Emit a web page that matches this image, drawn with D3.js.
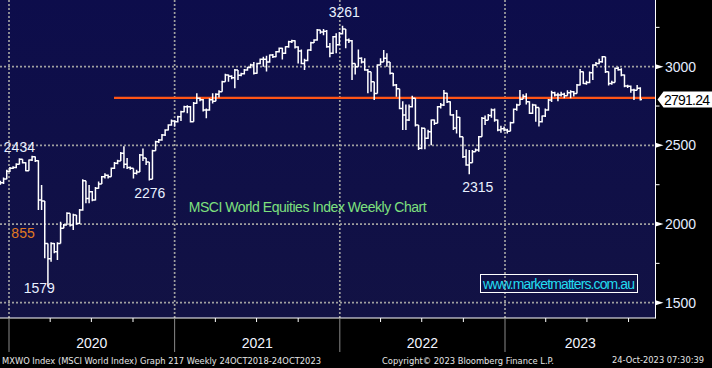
<!DOCTYPE html>
<html><head><meta charset="utf-8">
<script src="https://cdn.jsdelivr.net/npm/d3@7"></script>
<style>html,body{margin:0;padding:0;background:#000;}svg{display:block;}</style>
</head><body>
<svg id="chart" width="712" height="368"></svg>
<script>
// ---------- data ----------
const firstWeek = "2019-12-13";
const closes = [2262,2287,2335,2355,2360,2380,2411,2390,2339,2407,2428,2403,2153,2146,1877,1780,1877,1824,1877,1973,
1994,2068,1994,2057,2004,2089,2275,2163,2205,2153,2227,2255,2301,2310,2300,2354,2386,2400,2450,2380,
2360,2354,2322,2330,2439,2420,2395,2285,2466,2523,2534,2566,2598,2629,2655,2650,2682,2714,2746,2746,
2650,2767,2799,2790,2725,2725,2790,2780,2825,2841,2905,2947,2940,2930,2979,2945,2955,2979,2995,3011,
2958,3021,3047,3047,3030,3074,3064,3095,3117,3085,3127,3159,3165,3125,3100,3021,3040,3106,3153,3170,
3233,3220,3225,3127,3085,3191,3140,3210,3240,3170,3165,3021,3000,3053,3030,2979,2968,2905,2830,3011,
3030,3053,3030,2958,2884,2860,2735,2693,2661,2746,2799,2629,2481,2608,2545,2587,2661,2640,2746,2757,
2831,2778,2693,2610,2678,2555,2428,2375,2390,2460,2470,2555,2672,2660,2690,2725,2661,2598,2605,2598,
2590,2644,2729,2757,2793,2810,2778,2704,2757,2740,2650,2686,2725,2788,2835,2820,2820,2825,2815,2835,
2840,2830,2884,2968,2894,2900,2962,3011,3020,3032,3064,2968,2894,2900,2990,2980,2947,2877,2875,2852,
2850,2863,2791.24];
const highs = [2275,2295,2345,2362,2368,2386,2418,2412,2392,2410,2434,2430,2405,2248,2146,1877,1885,1880,1885,2015,
2000,2075,2068,2065,2010,2095,2285,2270,2248,2210,2235,2270,2305,2322,2315,2360,2395,2408,2458,2494,
2420,2365,2355,2345,2445,2480,2420,2395,2472,2530,2540,2572,2603,2635,2665,2660,2688,2720,2752,2755,
2750,2775,2831,2805,2795,2735,2800,2831,2831,2850,2910,2955,2950,2945,2985,2968,2962,2985,3000,3018,
3030,3025,3052,3064,3070,3078,3080,3100,3122,3120,3130,3165,3172,3168,3130,3110,3050,3110,3158,3175,
3240,3235,3240,3233,3150,3195,3212,3220,3261,3235,3180,3170,3020,3110,3060,3053,2985,2950,2905,3015,
3053,3106,3085,3021,2960,2890,2860,2780,2760,2760,2815,2780,2630,2615,2608,2600,2665,2665,2750,2770,
2852,2835,2780,2700,2725,2680,2555,2475,2470,2470,2480,2560,2680,2690,2700,2735,2735,2665,2625,2620,
2605,2650,2735,2765,2852,2825,2831,2780,2765,2760,2700,2690,2735,2795,2847,2840,2835,2840,2835,2850,
2850,2845,2890,2985,2970,2910,2970,3015,3030,3050,3068,3064,2970,2910,2995,3000,2990,2950,2885,2880,
2860,2884,2870];
const lows = [2250,2255,2285,2330,2350,2355,2378,2385,2335,2339,2400,2395,2089,2089,1782,1602,1760,1815,1771,1930,
1985,1994,1985,1962,1995,2000,2085,2132,2132,2145,2150,2225,2255,2290,2290,2300,2350,2380,2400,2354,
2350,2345,2290,2315,2330,2400,2375,2276,2285,2466,2515,2530,2560,2595,2625,2618,2645,2655,2710,2704,
2645,2650,2765,2780,2715,2672,2720,2766,2780,2805,2840,2905,2905,2920,2863,2915,2940,2950,2975,2990,
2950,2955,3015,3000,2970,3025,3055,3060,3090,3045,3080,3120,3150,3115,3021,3015,2979,3035,3100,3150,
3165,3210,3200,3120,3060,3080,3085,3140,3205,3117,3150,2915,2950,3000,3020,2975,2831,2841,2788,2830,
3015,3040,3000,2950,2875,2809,2730,2598,2598,2655,2740,2620,2470,2475,2475,2540,2500,2630,2640,2735,
2750,2770,2690,2598,2575,2550,2420,2370,2316,2390,2460,2460,2555,2630,2660,2675,2650,2590,2580,2590,
2575,2590,2640,2720,2757,2795,2760,2700,2700,2650,2620,2645,2680,2720,2776,2810,2780,2810,2800,2815,
2800,2810,2830,2880,2890,2885,2895,2915,3005,3015,3025,2960,2880,2885,2900,2975,2940,2870,2865,2835,
2788,2850,2785];
const lastPrice = 2791.24;
const supportLevel = 2802;
const supportFrom = "2020-08-20";
const yMajor = [1500, 2000, 2500, 3000];
const yMinor = [1750, 2250, 2750, 3250];
const yearLabels = ["2020", "2021", "2022", "2023"];
const annotations = [
  {text: "2434", date: "2020-01-24", value: 2458, color: "#e8f0ff"},
  {text: "855",  date: "2020-02-01", value: 1911, color: "#e07a22"},
  {text: "1579", date: "2020-03-08", value: 1561, color: "#e8f0ff"},
  {text: "2276", date: "2020-11-07", value: 2165, color: "#e8f0ff"},
  {text: "3261", date: "2022-01-11", value: 3316, color: "#e8f0ff"},
  {text: "2315", date: "2022-11-02", value: 2203, color: "#e8f0ff"}
];
const chartTitle = "MSCI World Equities Index Weekly Chart";
const titleAnchor = {date: "2021-02-01", value: 2076};
const watermark = "www.marketmatters.com.au";
const footerLeft = "MXWO Index (MSCI World Index) Graph 217  Weekly 24OCT2018-24OCT2023";
const footerMid = "Copyright\u00A9 2023 Bloomberg Finance L.P.";
const footerRight = "24-Oct-2023 07:30:39";

// ---------- layout ----------
const W = 712, H = 368;
const plotR = 655.5, plotB = 318;
const svg = d3.select("#chart");
const font = "'Liberation Sans', Arial, sans-serif";

const x = d3.scaleUtc()
  .domain([new Date("2020-01-01"), new Date("2023-01-01")])
  .range([9, 505]);
const y = d3.scaleLinear().domain([1500, 3000]).range([302.7, 66.7]);
const xStart = x.invert(0), xEnd = x.invert(plotR);

const start = new Date(firstWeek);
const bars = closes.map((c, i) => ({
  date: d3.utcDay.offset(start, 7 * i),
  o: i > 0 ? closes[i - 1] : lows[0] + 5,
  h: highs[i], l: lows[i], c
}));

// background
svg.append("rect").attr("width", W).attr("height", H).attr("fill", "#000");
const defs = svg.append("defs");
const grad = defs.append("linearGradient").attr("id", "bg").attr("x1", 0).attr("x2", 0).attr("y1", 0).attr("y2", 1);
grad.append("stop").attr("offset", "0%").attr("stop-color", "#0d0d4b");
grad.append("stop").attr("offset", "100%").attr("stop-color", "#121244");
svg.append("rect").attr("x", 0).attr("y", 0).attr("width", plotR).attr("height", plotB).attr("fill", "url(#bg)");

// grid
const grid = svg.append("g").attr("stroke", "#a0a0a0").attr("stroke-width", 1.7).attr("stroke-dasharray", "2,2");
grid.selectAll("line.h").data(yMajor).join("line")
  .attr("x1", 0).attr("x2", plotR).attr("y1", d => y(d)).attr("y2", d => y(d));
const yearStarts = yearLabels.map(s => new Date(s + "-01-01"));
grid.selectAll("line.v").data(yearStarts).join("line")
  .attr("x1", d => x(d)).attr("x2", d => x(d)).attr("y1", 0).attr("y2", plotB);

// support line
svg.append("line")
  .attr("x1", x(new Date(supportFrom))).attr("x2", plotR)
  .attr("y1", y(supportLevel)).attr("y2", y(supportLevel))
  .attr("stroke", "#ff5516").attr("stroke-width", 2.3);

// bars
const path = d3.path();
bars.forEach(b => {
  const bx = x(b.date);
  const top = Math.max(b.h, b.o, b.c), bot = Math.min(b.l, b.o, b.c);
  path.moveTo(bx, y(top)); path.lineTo(bx, y(bot));
  path.moveTo(bx - 1.7, y(b.o)); path.lineTo(bx, y(b.o));
  path.moveTo(bx, y(b.c)); path.lineTo(bx + 1.7, y(b.c));
});
svg.append("path").attr("d", path.toString()).attr("fill", "none")
  .attr("stroke", "#ffffff").attr("stroke-width", 1.5);

// frame lines
svg.append("line").attr("x1", plotR).attr("x2", plotR).attr("y1", 0).attr("y2", plotB + 0.5).attr("stroke", "#fff").attr("stroke-width", 1);
svg.append("line").attr("x1", 0).attr("x2", plotR).attr("y1", plotB).attr("y2", plotB).attr("stroke", "#fff").attr("stroke-width", 1);

// right axis
const ra = svg.append("g");
ra.selectAll("line.minor").data(yMinor).join("line")
  .attr("x1", plotR).attr("x2", plotR + 4).attr("y1", d => y(d)).attr("y2", d => y(d))
  .attr("stroke", "#fff").attr("stroke-width", 1);
ra.selectAll("path.tri").data(yMajor).join("path")
  .attr("d", d => `M${plotR},${y(d) - 2.5}L${plotR + 8},${y(d)}L${plotR},${y(d) + 2.5}Z`)
  .attr("fill", "#fff");
ra.selectAll("text").data(yMajor).join("text")
  .attr("x", 665).attr("y", d => y(d) + 5)
  .attr("fill", "#e4ecff").attr("font-family", font).attr("font-size", 14)
  .text(d => d);

// last price label
const ly = y(lastPrice);
svg.append("path")
  .attr("d", `M${plotR + 2},${ly}L${plotR + 8},${ly - 8}H712V${ly + 8}H${plotR + 8}Z`)
  .attr("fill", "#fff");
svg.append("text").attr("x", 664).attr("y", ly + 5).attr("fill", "#000")
  .attr("font-family", font).attr("font-size", 14).attr("textLength", 46).text(d3.format(".2f")(lastPrice));

// bottom axis ticks
const quarters = d3.utcMonth.every(3).range(xStart, xEnd);
svg.append("g").selectAll("line").data(quarters).join("line")
  .attr("x1", d => x(d)).attr("x2", d => x(d))
  .attr("y1", plotB).attr("y2", d => d.getUTCMonth() === 0 ? 352 : 322)
  .attr("stroke", d => d.getUTCMonth() === 0 ? "#8a8a8a" : "#ffffff").attr("stroke-width", 1);
svg.append("g").selectAll("text").data(yearLabels).join("text")
  .attr("x", s => {
    const a = Math.max(0, x(new Date(s + "-01-01")));
    const b = Math.min(plotR, x(new Date((+s + 1) + "-01-01")));
    return (a + b) / 2;
  })
  .attr("y", 348).attr("text-anchor", "middle")
  .attr("fill", "#f2f4ff").attr("font-family", font).attr("font-size", 14)
  .text(s => s);

// annotations
svg.append("g").selectAll("text").data(annotations).join("text")
  .attr("x", d => x(new Date(d.date))).attr("y", d => y(d.value))
  .attr("text-anchor", "middle").attr("fill", d => d.color)
  .attr("font-family", font).attr("font-size", 14)
  .text(d => d.text);

svg.append("text")
  .attr("x", x(new Date(titleAnchor.date))).attr("y", y(titleAnchor.value))
  .attr("fill", "#7ee07e").attr("font-family", font).attr("font-size", 14)
  .attr("textLength", 238).text(chartTitle);

// watermark box
svg.append("rect").attr("x", 480.5).attr("y", 274.5).attr("width", 157).attr("height", 18)
  .attr("fill", "none").attr("stroke", "#fff").attr("stroke-width", 1);
svg.append("text").attr("x", 483).attr("y", 288.5)
  .attr("fill", "#22dcf0").attr("font-family", font).attr("font-size", 14)
  .attr("textLength", 152).text(watermark);

// footer
const ff = "'DejaVu Sans', sans-serif";
svg.append("text").attr("x", 2).attr("y", 363.5).attr("fill", "#e6e6e6")
  .attr("font-family", ff).attr("font-size", 9).attr("textLength", 319).attr("lengthAdjust", "spacingAndGlyphs").text(footerLeft);
svg.append("text").attr("x", 382).attr("y", 363.5).attr("fill", "#e6e6e6")
  .attr("font-family", ff).attr("font-size", 9).attr("textLength", 172).attr("lengthAdjust", "spacingAndGlyphs").text(footerMid);
svg.append("text").attr("x", 612).attr("y", 363).attr("fill", "#e6e6e6")
  .attr("font-family", ff).attr("font-size", 9).attr("textLength", 92).attr("lengthAdjust", "spacingAndGlyphs").text(footerRight);
</script>
</body></html>
